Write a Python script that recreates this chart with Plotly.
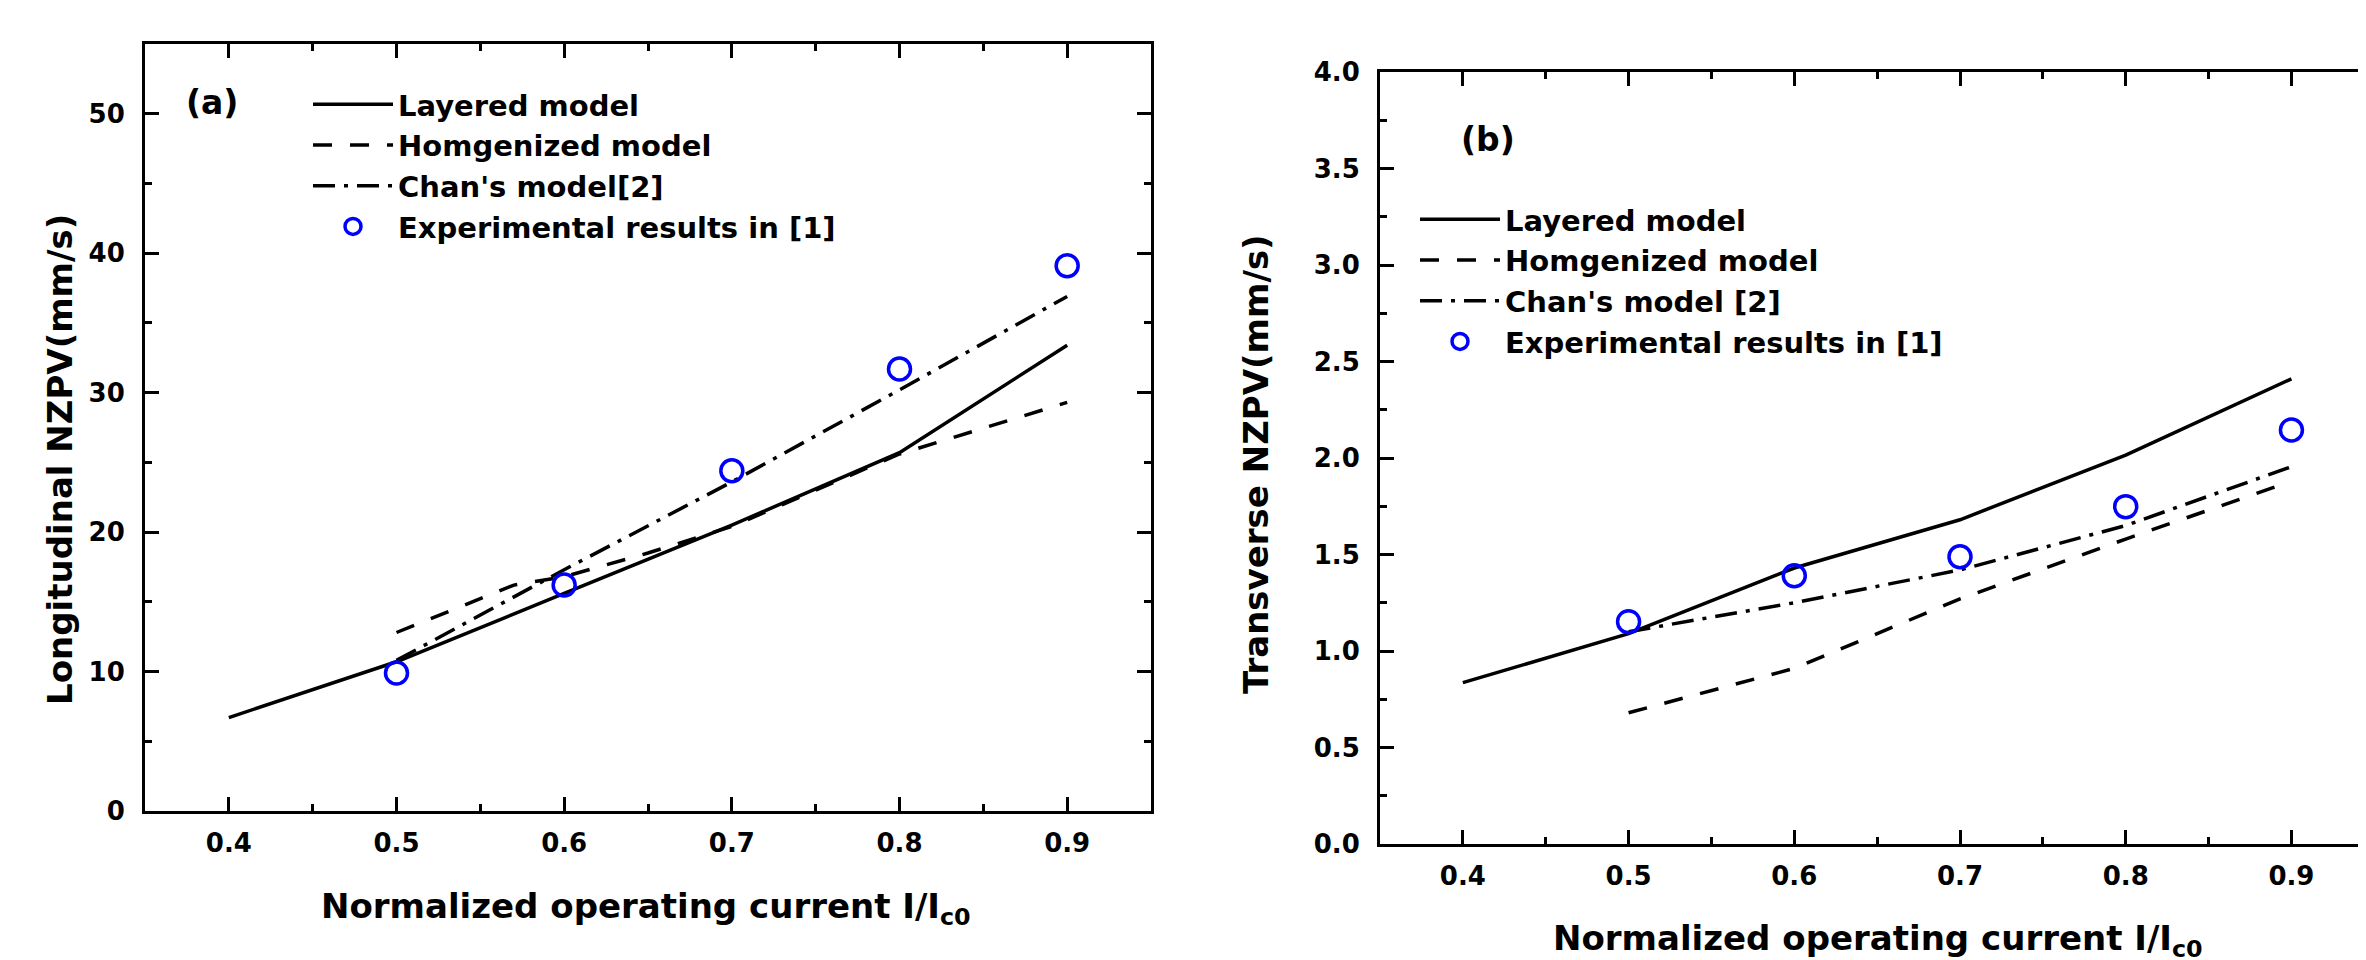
import plotly.graph_objects as go

# ---------------- data ----------------
x_full = [0.4, 0.5, 0.6, 0.7, 0.8, 0.9]
x_exp = [0.5, 0.6, 0.7, 0.8, 0.9]

# panel (a) longitudinal NZPV (mm/s)
a_layered = [6.7, 10.7, 15.6, 20.5, 25.7, 33.4]
a_homog_x = [0.5, 0.57, 0.6, 0.65, 0.7, 0.8, 0.9]
a_homog = [12.8, 16.2, 16.8, 18.5, 20.4, 25.6, 29.3]
a_chan = [10.8, 17.3, 23.6, 30.2, 36.9]
a_exp = [9.9, 16.2, 24.4, 31.7, 39.1]

# panel (b) transverse NZPV (mm/s)
b_layered = [0.836, 1.09, 1.43, 1.68, 2.015, 2.41]
b_homog = [0.68, 0.91, 1.27, 1.58, 1.88]
b_chan = [1.10, 1.25, 1.42, 1.65, 1.955]
b_exp = [1.152, 1.39, 1.488, 1.748, 2.145]

names_a = ["Layered model", "Homgenized model", "Chan's model[2]", "Experimental results in [1]"]
names_b = ["Layered model", "Homgenized model", "Chan's model [2]", "Experimental results in [1]"]

# ---------------- style ----------------
OFF = 8                      # default page body margin
W, H = 2366 - OFF, 960 - OFF  # figure fits exactly in the window
FONT = "DejaVu Sans"
BLACK = "#000000"
BLUE = "#0000FF"
LW = 3.5
DASH = "19px,18px"
DASHDOT = "22px,9px,4px,9px"


def px_x(p):
    # screen pixel -> paper fraction
    return (p - OFF) / W


def px_y(p):
    return (H - (p - OFF)) / H


fig = go.Figure()


def add_panel(xa, ya, legend, names, lay, hx, hy, ch, ex):
    fig.add_trace(go.Scatter(x=x_full, y=lay, mode="lines", name=names[0],
                             line=dict(color=BLACK, width=LW), xaxis=xa, yaxis=ya, legend=legend))
    fig.add_trace(go.Scatter(x=hx, y=hy, mode="lines", name=names[1],
                             line=dict(color=BLACK, width=LW, dash=DASH), xaxis=xa, yaxis=ya, legend=legend))
    fig.add_trace(go.Scatter(x=x_exp, y=ch, mode="lines", name=names[2],
                             line=dict(color=BLACK, width=LW, dash=DASHDOT), xaxis=xa, yaxis=ya, legend=legend))
    fig.add_trace(go.Scatter(x=x_exp, y=ex, mode="markers", name=names[3],
                             marker=dict(symbol="circle-open", size=22, color=BLUE, line=dict(color=BLUE, width=3.5)),
                             xaxis=xa, yaxis=ya, legend=legend))


add_panel("x", "y", "legend", names_a, a_layered, a_homog_x, a_homog, a_chan, a_exp)
add_panel("x2", "y2", "legend2", names_b, b_layered, x_exp, b_homog, b_chan, b_exp)

tickfont = dict(family=FONT, size=26, color=BLACK, weight="bold")

common_x = dict(showline=True, linewidth=3, linecolor=BLACK, ticks="inside", ticklen=14, tickwidth=3,
                tickcolor=BLACK, showgrid=False, zeroline=False, tickfont=tickfont, automargin=False,
                tickmode="array", tickvals=x_full, ticktext=["0.4", "0.5", "0.6", "0.7", "0.8", "0.9"],
                minor=dict(ticks="inside", ticklen=7, tickwidth=3, tickcolor=BLACK, dtick=0.05, tick0=0.35),
                ticklabelstandoff=7)
common_y = dict(showline=True, linewidth=3, linecolor=BLACK, ticks="inside", ticklen=14, tickwidth=3,
                tickcolor=BLACK, showgrid=False, zeroline=False, tickfont=tickfont, ticklabelstandoff=12,
                automargin=False)

fig.update_layout(
    width=W, height=H,
    margin=dict(l=0, r=0, t=0, b=0, pad=0, autoexpand=False),
    paper_bgcolor="white", plot_bgcolor="white",
    font=dict(family=FONT, color=BLACK),
    xaxis=dict(common_x, domain=[px_x(145), px_x(1151)], range=[0.35, 0.95], anchor="y", mirror="ticks"),
    yaxis=dict(common_y, domain=[px_y(811), px_y(44)], range=[0, 55], anchor="x", mirror="ticks",
               tickvals=[0, 10, 20, 30, 40, 50], ticktext=["0", "10", "20", "30", "40", "50"], tickmode="array",
               minor=dict(ticks="inside", ticklen=7, tickwidth=3, tickcolor=BLACK, dtick=5, tick0=0)),
    xaxis2=dict(common_x, domain=[px_x(1380), 1.0], range=[0.35, 0.945], anchor="y2", mirror="ticks"),
    yaxis2=dict(common_y, domain=[px_y(844), px_y(72)], range=[0, 4], anchor="x2", mirror=False,
                tickmode="array", tickvals=[0, 0.5, 1, 1.5, 2, 2.5, 3, 3.5, 4],
                ticktext=["0.0", "0.5", "1.0", "1.5", "2.0", "2.5", "3.0", "3.5", "4.0"],
                minor=dict(ticks="inside", ticklen=7, tickwidth=3, tickcolor=BLACK, dtick=0.25, tick0=0)),
    yaxis4=dict(overlaying="y2", side="right", anchor="x2", range=[0, 4], showline=False, ticks="inside",
                ticklen=6, tickwidth=3, tickcolor=BLACK, showticklabels=False, showgrid=False, zeroline=False,
                tickmode="array", tickvals=[0, 0.5, 1, 1.5, 2, 2.5, 3, 3.5, 4], automargin=False),
    legend=dict(x=px_x(308), y=px_y(79), xanchor="left", yanchor="top", bgcolor="rgba(0,0,0,0)",
                borderwidth=0, itemwidth=80, font=dict(family=FONT, size=29, color=BLACK, weight="bold"),
                itemclick=False, tracegroupgap=0),
    legend2=dict(x=px_x(1415), y=px_y(194), xanchor="left", yanchor="top", bgcolor="rgba(0,0,0,0)",
                 borderwidth=0, itemwidth=80, font=dict(family=FONT, size=29, color=BLACK, weight="bold"),
                 itemclick=False, tracegroupgap=0),
    showlegend=True,
)

# keep an (empty) trace on the helper right axis so it renders
fig.add_trace(go.Scatter(x=[None], y=[None], xaxis="x2", yaxis="y4", showlegend=False, hoverinfo="skip"))

annot_font = dict(family=FONT, size=34, color=BLACK, weight="bold")
fig.add_annotation(text="Normalized operating current I/I<sub>c0</sub>", xref="paper", yref="paper",
                   x=px_x(646), y=px_y(908), xanchor="center", yanchor="middle", showarrow=False, font=annot_font)
fig.add_annotation(text="Normalized operating current I/I<sub>c0</sub>", xref="paper", yref="paper",
                   x=px_x(1878), y=px_y(940), xanchor="center", yanchor="middle", showarrow=False, font=annot_font)
fig.add_annotation(text="Longitudinal NZPV(mm/s)", xref="paper", yref="paper", textangle=-90,
                   x=px_x(60), y=px_y(460), xanchor="center", yanchor="middle", showarrow=False, font=annot_font)
fig.add_annotation(text="Transverse NZPV(mm/s)", xref="paper", yref="paper", textangle=-90,
                   x=px_x(1256), y=px_y(464), xanchor="center", yanchor="middle", showarrow=False, font=annot_font)
fig.add_annotation(text="(a)", xref="paper", yref="paper", x=px_x(212), y=px_y(103), xanchor="center",
                   yanchor="middle", showarrow=False, font=dict(family=FONT, size=33, color=BLACK, weight="bold"))
fig.add_annotation(text="(b)", xref="paper", yref="paper", x=px_x(1488), y=px_y(140), xanchor="center",
                   yanchor="middle", showarrow=False, font=dict(family=FONT, size=33, color=BLACK, weight="bold"))

fig.write_html("out.html")
